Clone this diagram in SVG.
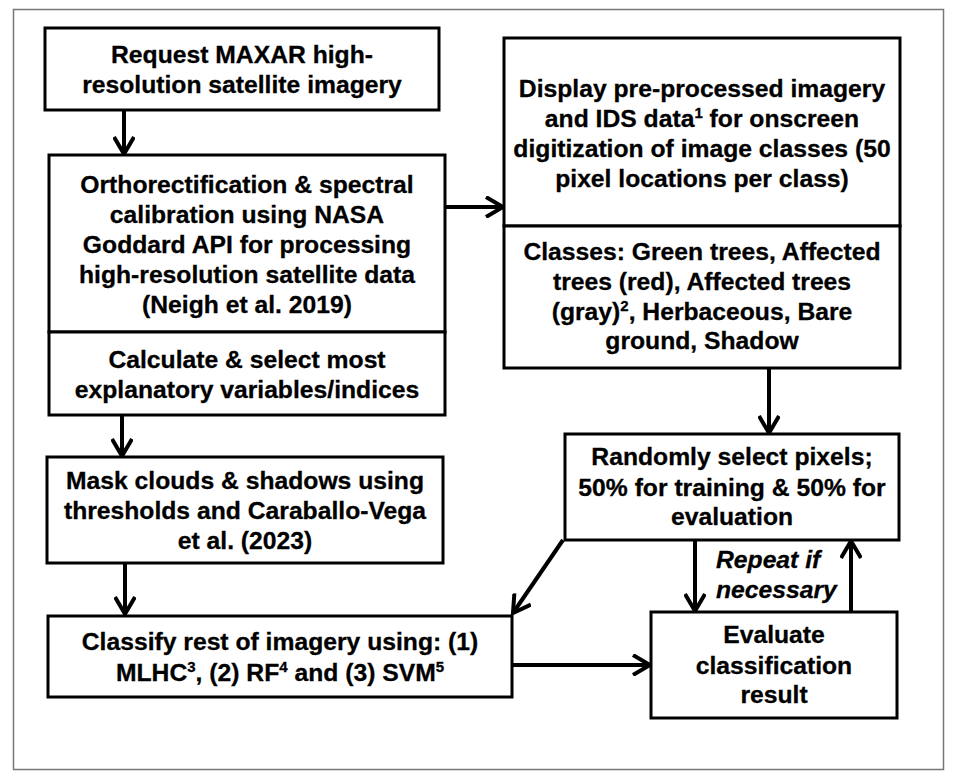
<svg xmlns="http://www.w3.org/2000/svg" width="957" height="782" viewBox="0 0 957 782">
<style>
.box{fill:#fff;stroke:#000;stroke-width:3}
.t{font-family:"Liberation Sans",Arial,sans-serif;font-weight:bold;font-size:24.7px;fill:#000;stroke:#000;stroke-width:0.3;text-anchor:middle}
.it{font-family:"Liberation Sans",Arial,sans-serif;font-weight:bold;font-style:italic;font-size:24.7px;fill:#000;stroke:#000;stroke-width:0.3}
.sup{font-size:15px}
.c{fill:none;stroke:#000;stroke-width:4}
</style>
<defs>
<marker id="ah" viewBox="0 0 22 22" refX="19" refY="11" markerWidth="22" markerHeight="22" markerUnits="userSpaceOnUse" orient="auto">
<path d="M2,1 L19,11 L2,21" fill="none" stroke="#000" stroke-width="4"/>
</marker>
</defs>
<rect x="0" y="0" width="957" height="782" fill="#fff"/>
<rect x="13.5" y="9.5" width="930" height="760" fill="none" stroke="#777" stroke-width="1.5"/>

<g id="connectors">
<line class="c" x1="124" y1="110" x2="124" y2="154" marker-end="url(#ah)"/>
<line class="c" x1="122" y1="415" x2="122" y2="456" marker-end="url(#ah)"/>
<line class="c" x1="125" y1="563" x2="125" y2="614" marker-end="url(#ah)"/>
<line class="c" x1="445" y1="207" x2="503" y2="207" marker-end="url(#ah)"/>
<line class="c" x1="769" y1="368" x2="769" y2="433" marker-end="url(#ah)"/>
<line class="c" x1="563" y1="540" x2="513" y2="613" marker-end="url(#ah)"/>
<line class="c" x1="695" y1="540" x2="695" y2="611" marker-end="url(#ah)"/>
<line class="c" x1="851" y1="612" x2="851" y2="541" marker-end="url(#ah)"/>
<line class="c" x1="512" y1="665" x2="650" y2="665" marker-end="url(#ah)"/>
<text class="it" x="716" y="568">Repeat if</text>
<text class="it" x="716" y="598">necessary</text>
</g>

<g id="request">
<rect class="box" x="45" y="28" width="394" height="82"/>
<text class="t" x="242" y="63">Request MAXAR high-</text>
<text class="t" x="242" y="93">resolution satellite imagery</text>
</g>

<g id="ortho">
<rect class="box" x="49" y="155" width="396" height="177"/>
<text class="t" x="247" y="193">Orthorectification &amp; spectral</text>
<text class="t" x="247" y="223">calibration using NASA</text>
<text class="t" x="247" y="253">Goddard API for processing</text>
<text class="t" x="247" y="283">high-resolution satellite data</text>
<text class="t" x="247" y="313">(Neigh et al. 2019)</text>
</g>

<g id="calculate">
<rect class="box" x="49" y="332" width="396" height="83"/>
<text class="t" x="247" y="368">Calculate &amp; select most</text>
<text class="t" x="247" y="398">explanatory variables/indices</text>
</g>

<g id="mask">
<rect class="box" x="47" y="457" width="396" height="106"/>
<text class="t" x="245" y="489">Mask clouds &amp; shadows using</text>
<text class="t" x="245" y="519">thresholds and Caraballo-Vega</text>
<text class="t" x="245" y="549">et al. (2023)</text>
</g>

<g id="classify">
<rect class="box" x="48" y="616" width="464" height="81"/>
<text class="t" x="280" y="650">Classify rest of imagery using: (1)</text>
<text class="t" x="280" y="681">MLHC<tspan class="sup" dy="-9">3</tspan><tspan dy="9">, (2) RF</tspan><tspan class="sup" dy="-9">4</tspan><tspan dy="9"> and (3) SVM</tspan><tspan class="sup" dy="-9">5</tspan></text>
</g>

<g id="display">
<rect class="box" x="504" y="38" width="396" height="188"/>
<text class="t" x="702" y="97">Display pre-processed imagery</text>
<text class="t" x="702" y="127">and IDS data<tspan class="sup" dy="-9">1</tspan><tspan dy="9"> for onscreen</tspan></text>
<text class="t" x="702" y="157">digitization of image classes (50</text>
<text class="t" x="702" y="187">pixel locations per class)</text>
</g>

<g id="classes">
<rect class="box" x="504" y="226" width="396" height="142"/>
<text class="t" x="702" y="260">Classes: Green trees, Affected</text>
<text class="t" x="702" y="290">trees (red), Affected trees</text>
<text class="t" x="702" y="320">(gray)<tspan class="sup" dy="-9">2</tspan><tspan dy="9">, Herbaceous, Bare</tspan></text>
<text class="t" x="702" y="349">ground, Shadow</text>
</g>

<g id="randomly">
<rect class="box" x="565" y="434" width="334" height="106"/>
<text class="t" x="732" y="465">Randomly select pixels;</text>
<text class="t" x="732" y="496">50% for training &amp; 50% for</text>
<text class="t" x="732" y="525">evaluation</text>
</g>

<g id="evaluate">
<rect class="box" x="651" y="612" width="246" height="106"/>
<text class="t" x="774" y="643">Evaluate</text>
<text class="t" x="774" y="674">classification</text>
<text class="t" x="774" y="703">result</text>
</g>
</svg>
